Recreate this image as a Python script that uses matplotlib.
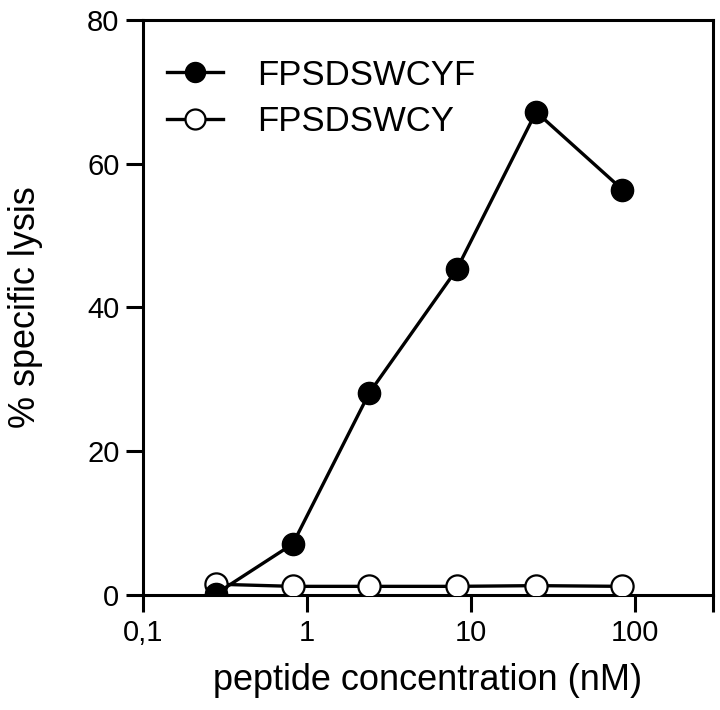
import numpy as np
import matplotlib
matplotlib.use("Agg")
import matplotlib.pyplot as plt
from matplotlib.ticker import FixedLocator, NullLocator

plt.rcParams['font.family'] = ['Liberation Sans', 'DejaVu Sans']

# # # # # data # # # # #
conc = [0.28, 0.82, 2.4, 8.2, 25, 84]
lysis_yf = [0.2, 7.1, 28.1, 45.3, 67.2, 56.4]
lysis_y = [1.5, 1.2, 1.2, 1.2, 1.3, 1.2]
labels = ["FPSDSWCYF", "FPSDSWCY"]
xticks = [0.1, 1, 10, 100, 300]
xticklabels = ["0,1", "1", "10", "100", ""]
yticks = [0, 20, 40, 60, 80]

fig = plt.figure(figsize=(7.2, 7.1), dpi=100)
ax = fig.add_axes([0.1986, 0.162, 0.7917, 0.81])

ax.plot(conc, lysis_y, color='black', lw=2.4, marker='o', ms=16,
        mfc='white', mec='black', mew=1.6, label=labels[1], zorder=3)
ax.plot(conc, lysis_yf, color='black', lw=2.4, marker='o', ms=16,
        mfc='black', mec='black', label=labels[0], zorder=4)

ax.set_xscale('log')
ax.set_xlim(0.1, 300)
ax.set_ylim(0, 80)
ax.xaxis.set_major_locator(FixedLocator(xticks))
ax.xaxis.set_minor_locator(NullLocator())
ax.set_xticklabels(xticklabels)
ax.set_yticks(yticks)
ax.tick_params(axis='both', direction='out', length=12, width=2.2,
               labelsize=21, pad=5)
for s in ax.spines.values():
    s.set_linewidth(2.2)

ax.set_xlabel("peptide concentration (nM)", fontsize=26, labelpad=12)
ax.set_ylabel("% specific lysis", fontsize=26, labelpad=32)

h, l = ax.get_legend_handles_labels()
ax.legend(h[::-1], l[::-1], loc='upper left', frameon=False, fontsize=25,
          handlelength=1.6, handletextpad=1.0, borderaxespad=0.3,
          labelspacing=0.38, bbox_to_anchor=(0.0, 0.975), markerscale=0.9)

fig.savefig("out.png", dpi=100)
